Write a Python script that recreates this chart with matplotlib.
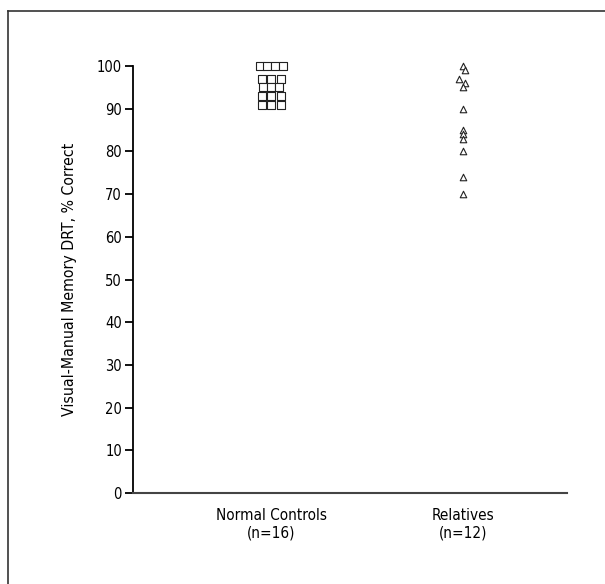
import matplotlib
matplotlib.use("Agg")
import matplotlib.pyplot as plt
from matplotlib.lines import Line2D

plt.rcParams['font.family'] = ['DejaVu Sans']
plt.rcParams['font.stretch'] = 'condensed'

# %% DATA

groups = ["Normal Controls\n(n=16)", "Relatives\n(n=12)"]
group_pos = [1, 2]

# normal controls, % correct, with small horizontal offsets
controls = [100, 100, 100, 100, 97, 97, 97, 95, 95, 95, 93, 93, 93, 91, 91, 91]
controls_dx = [-0.06, -0.02, 0.02, 0.06, -0.05, 0.0, 0.05, -0.04, 0.0, 0.04,
               -0.05, 0.0, 0.05, -0.05, 0.0, 0.05]

# relatives, % correct
relatives = [100, 99, 97, 96, 95, 90, 85, 84, 83, 80, 74, 70]
relatives_dx = [0.0, 0.01, -0.02, 0.01, 0.0, 0.0, 0.0, 0.0, 0.0, 0.0, 0.0, 0.0]

yticks = [0, 10, 20, 30, 40, 50, 60, 70, 80, 90, 100]

# %% PLOT

fig = plt.figure(figsize=(6.05, 5.84), dpi=100)
ax = fig.add_axes([0.2198, 0.1558, 0.717, 0.731])

ax.scatter([group_pos[0] + d for d in controls_dx], controls, marker="s", s=26,
           facecolors="white", edgecolors="#222222", linewidths=0.8, clip_on=False, zorder=3)
ax.scatter([group_pos[1] + d for d in relatives_dx], relatives, marker="^", s=22,
           facecolors="white", edgecolors="#222222", linewidths=0.8, clip_on=False, zorder=3)

ax.set_xlim(0.28, 2.54)
ax.set_ylim(0, 100)
ax.set_yticks(yticks)
ax.set_xticks(group_pos)
ax.set_xticklabels(groups, fontsize=11, linespacing=1.15)
ax.tick_params(axis="x", length=0, pad=11)
ax.tick_params(axis="y", length=6, width=1.3, labelsize=10.5, pad=2)

for s in ["top", "right"]:
    ax.spines[s].set_visible(False)
ax.spines["left"].set_linewidth(1.3)
ax.spines["bottom"].set_linewidth(1.5)
ax.spines["bottom"].set_color("#444444")

ax.set_ylabel("Visual-Manual Memory DRT, % Correct", fontsize=11.3, labelpad=14)

# scanned page border
fig.add_artist(Line2D([8 / 605, 8 / 605], [0, 1 - 11 / 584], color="#333333", lw=1.2))
fig.add_artist(Line2D([8 / 605, 1], [1 - 11 / 584, 1 - 11 / 584], color="#333333", lw=1.2))

fig.savefig("out.png", dpi=100)
